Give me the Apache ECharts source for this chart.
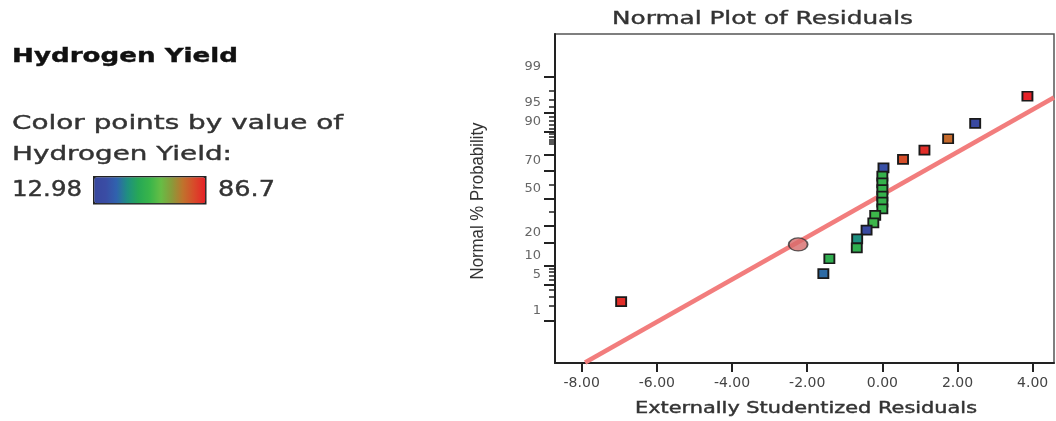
<!DOCTYPE html>
<html>
<head>
<meta charset="utf-8">
<script src="https://cdn.jsdelivr.net/npm/echarts@6/dist/echarts.min.js"></script>
<style>
html,body{margin:0;padding:0;background:#fff;}
#chart{width:1056px;height:421px;}
</style>
</head>
<body>
<div id="chart"></div>
<script>
// ---- data ----
const residuals = [3.86, 2.47, 1.75, 1.12, 0.55, 0.03, 0.00, 0.00, 0.00, 0.00, 0.00, 0.00, -0.19, -0.24, -0.42, -0.67, -0.68, -1.41, -1.57, -6.95];
const probabilities = [97.45, 92.4, 87.3, 82.2, 77.2, 72.1, 66.5, 61.8, 56.8, 51.8, 47.2, 42.2, 37.3, 32.1, 27.3, 22.1, 17.3, 12.5, 7.6, 2.46];
const yields = [86.7, 15, 73.4, 84.5, 78.5, 21.8, 48.4, 48.4, 48.4, 48.4, 48.4, 48.4, 50.5, 50.5, 16.7, 35.1, 46.2, 46.0, 29.2, 84.5];
const highlightResidual = [-2.24];
const highlightProbability = [19.0];
const fitResiduals = [-7.91, 4.567];
const fitProbabilities = [0.087, 97.3];
const xTicks = [-8, -6, -4, -2, 0, 2, 4];
const yMajorTicks = [1, 5, 10, 20, 30, 50, 70, 80, 90, 95, 99];
const yTickLabels = [1, 5, 10, 20, 50, 70, 90, 95, 99];
const yMinorTicks = [2, 3, 4, 6, 7, 8, 9, 40, 60, 85, 86, 87, 88, 89, 91, 92, 93, 94, 96, 97, 98];
const yieldMin = 12.98;
const yieldMax = 86.7;

// ---- normal probability scale (inverse normal CDF, Acklam) ----
function probit(p) {
  const a = [-3.969683028665376e+01, 2.209460984245205e+02, -2.759285104469687e+02, 1.383577518672690e+02, -3.066479806614716e+01, 2.506628277459239e+00];
  const b = [-5.447609879822406e+01, 1.615858368580409e+02, -1.556989798598866e+02, 6.680131188771972e+01, -1.328068155288572e+01];
  const c = [-7.784894002430293e-03, -3.223964580411365e-01, -2.400758277161838e+00, -2.549732539343734e+00, 4.374664141464968e+00, 2.938163982698783e+00];
  const d = [7.784695709041462e-03, 3.224671290700398e-01, 2.445134137142996e+00, 3.754408661907416e+00];
  const plow = 0.02425, phigh = 1 - plow;
  let q, r;
  if (p < plow) {
    q = Math.sqrt(-2 * Math.log(p));
    return (((((c[0]*q+c[1])*q+c[2])*q+c[3])*q+c[4])*q+c[5]) / ((((d[0]*q+d[1])*q+d[2])*q+d[3])*q+1);
  } else if (p <= phigh) {
    q = p - 0.5; r = q*q;
    return (((((a[0]*r+a[1])*r+a[2])*r+a[3])*r+a[4])*r+a[5])*q / (((((b[0]*r+b[1])*r+b[2])*r+b[3])*r+b[4])*r+1);
  } else {
    q = Math.sqrt(-2 * Math.log(1 - p));
    return -(((((c[0]*q+c[1])*q+c[2])*q+c[3])*q+c[4])*q+c[5]) / ((((d[0]*q+d[1])*q+d[2])*q+d[3])*q+1);
  }
}
const z = pct => probit(pct / 100);

// labels in the original sit ~10px above their ticks
const Z_MIN = -3.14, Z_MAX = 3.14, PLOT_H = 329;
const labelShift = 10 * (Z_MAX - Z_MIN) / PLOT_H;
function pctLabel(v) {
  let best = yTickLabels[0], bd = Infinity;
  yTickLabels.forEach(p => { const dd = Math.abs(z(p) + labelShift - v); if (dd < bd) { bd = dd; best = p; } });
  return String(best);
}

// text helper: stretch text horizontally to a target width
const mctx = document.createElement('canvas').getContext('2d');
function stretchText(txt, font, left, baseline, targetW, fill, size) {
  mctx.font = font;
  const w = mctx.measureText(txt).width;
  return {
    type: 'text', x: left, y: baseline - 0.32 * size, scaleX: targetW / w, silent: true,
    style: { text: txt, font: font, fill: fill, align: 'left', verticalAlign: 'middle', stroke: fill, lineWidth: 0.4 }
  };
}

const chart = echarts.init(document.getElementById('chart'));

const yTitleFont = '15px "Liberation Sans"';
mctx.font = yTitleFont;
const yTitleW = mctx.measureText('Normal % Probability').width;

const option = {
  animation: false,
  backgroundColor: '#fff',
  grid: { left: 555, top: 34, right: 2, bottom: 58, show: true, borderColor: '#555', borderWidth: 1.5 },
  xAxis: {
    type: 'value', min: -8.71, max: 4.567,
    axisLine: { show: true, onZero: false, lineStyle: { color: '#222', width: 2 } },
    axisTick: { show: true, customValues: xTicks, length: 9, lineStyle: { color: '#222', width: 2 } },
    axisLabel: { customValues: xTicks, formatter: v => v.toFixed(2), color: '#444', fontSize: 14, fontFamily: 'DejaVu Sans', margin: 13, showMinLabel: true, showMaxLabel: true },
    splitLine: { show: false }
  },
  yAxis: [
    {
      type: 'value', min: Z_MIN, max: Z_MAX, position: 'left',
      axisLine: { show: true, onZero: false, lineStyle: { color: '#222', width: 2 } },
      axisTick: { show: true, customValues: yMajorTicks.map(z), length: 11, lineStyle: { color: '#222', width: 2 } },
      axisLabel: { show: false },
      splitLine: { show: false }
    },
    {
      type: 'value', min: Z_MIN, max: Z_MAX, position: 'left',
      axisLine: { show: false, onZero: false },
      axisTick: { show: true, customValues: yMinorTicks.map(z), length: 6, lineStyle: { color: '#222', width: 1.5 } },
      axisLabel: { show: false },
      splitLine: { show: false }
    },
    {
      type: 'value', min: Z_MIN, max: Z_MAX, position: 'left',
      axisLine: { show: false, onZero: false },
      axisTick: { show: false },
      axisLabel: { customValues: yTickLabels.map(p => z(p) + labelShift), formatter: pctLabel, color: '#666', fontSize: 13, fontFamily: 'DejaVu Sans', margin: 14, showMinLabel: true, showMaxLabel: true },
      splitLine: { show: false }
    }
  ],
  visualMap: {
    type: 'continuous', min: yieldMin, max: yieldMax, dimension: 2, seriesIndex: 1,
    orient: 'horizontal', left: 93, top: 176, itemWidth: 26, itemHeight: 111,
    calculable: false, hoverLink: false, padding: 0,
    borderColor: '#222', borderWidth: 2.5,
    inRange: { color: ['#38489e', '#3a4ca4', '#3062ae', '#1f9080', '#27a855', '#39b54a', '#66bd45', '#8a9a3a', '#c0722c', '#d84a2a', '#e62228'] }
  },
  series: [
    {
      type: 'line', silent: true, symbol: 'none', z: 2,
      data: fitResiduals.map((x, i) => [x, z(fitProbabilities[i])]),
      lineStyle: { color: '#f27d7d', width: 4.5 }
    },
    {
      type: 'scatter', silent: true, symbol: 'rect', symbolSize: [10, 9], z: 3,
      data: residuals.map((x, i) => [x, z(probabilities[i]), yields[i]]),
      itemStyle: { borderColor: '#1a1a1a', borderWidth: 1.8, opacity: 1 }
    },
    {
      type: 'scatter', silent: true, symbol: 'circle', symbolSize: [19, 13], z: 4,
      data: highlightResidual.map((x, i) => [x, z(highlightProbability[i])]),
      itemStyle: { color: '#d76b6b', borderColor: '#333', borderWidth: 1.5 }
    }
  ],
  graphic: { elements: [
    stretchText('Hydrogen Yield', 'bold 20px "DejaVu Sans"', 12, 63, 226, '#111', 20),
    stretchText('Color points by value of', '19px "DejaVu Sans"', 12, 130, 331, '#333', 19),
    stretchText('Hydrogen Yield:', '19px "DejaVu Sans"', 12, 161, 220, '#333', 19),
    stretchText('12.98', '21px "DejaVu Sans"', 12, 197, 70, '#333', 21),
    stretchText('86.7', '21px "DejaVu Sans"', 218, 197, 57, '#333', 21),
    stretchText('Normal Plot of Residuals', '18px "DejaVu Sans"', 612, 25, 301, '#333', 18),
    stretchText('Externally Studentized Residuals', '15px "DejaVu Sans"', 635, 414, 342, '#333', 15),
    {
      type: 'text', x: 478, y: 201, rotation: Math.PI / 2, scaleX: 157 / yTitleW, scaleY: 1.25, silent: true,
      style: { text: 'Normal % Probability', font: yTitleFont, fill: '#333', align: 'center', verticalAlign: 'middle' }
    }
  ] }
};
chart.setOption(option);
</script>
</body>
</html>
